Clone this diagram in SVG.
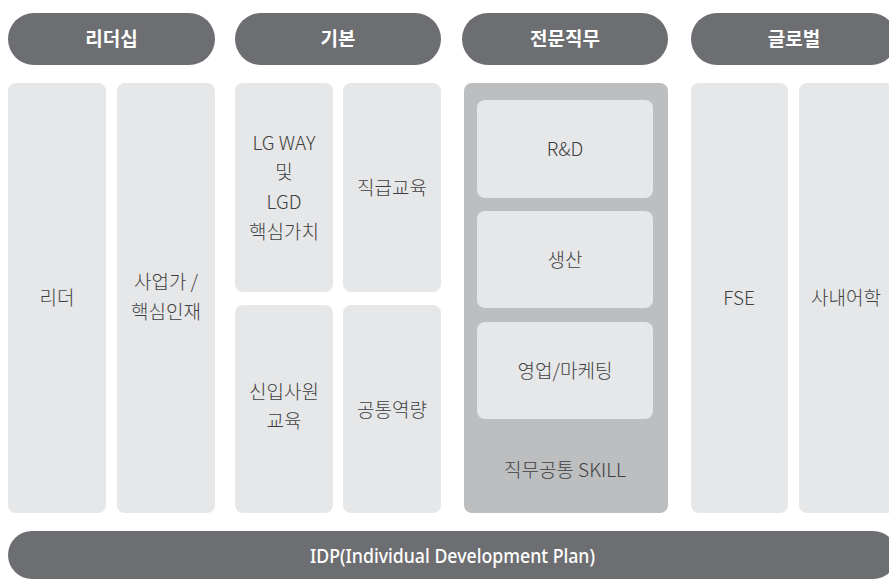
<svg xmlns="http://www.w3.org/2000/svg" width="889" height="579" viewBox="0 0 889 579">
<style>
.pill{fill:#6d6e71}
.box{fill:#e6e7e8}
.mid{fill:#bcbec0}
.h{font-family:"Noto Sans CJK KR","Noto Sans",sans-serif;font-size:19px;font-weight:700;fill:#ffffff;text-anchor:middle}
.t{font-family:"Noto Sans CJK KR","Noto Sans",sans-serif;font-size:19px;font-weight:300;fill:#3f3f41;text-anchor:middle}
.idp{font-family:"Noto Sans","Noto Sans CJK KR",sans-serif;font-size:20px;font-weight:500;fill:#ffffff;text-anchor:middle}
</style>
<rect width="889" height="579" fill="#ffffff"/>
<g id="hdr-leadership"><rect class="pill" x="8" y="13" width="207" height="52" rx="26"/><text class="h" x="111.5" y="46">리더십</text></g>
<g id="hdr-basic"><rect class="pill" x="235" y="13" width="206" height="52" rx="26"/><text class="h" x="338" y="46">기본</text></g>
<g id="hdr-job"><rect class="pill" x="462" y="13" width="206" height="52" rx="26"/><text class="h" x="565" y="46">전문직무</text></g>
<g id="hdr-global"><rect class="pill" x="691" y="13" width="206" height="52" rx="26"/><text class="h" x="794" y="46">글로벌</text></g>

<g id="leader"><rect class="box" x="8" y="83" width="98" height="430" rx="8"/><text class="t" x="57" y="305">리더</text></g>
<g id="talent"><rect class="box" x="117" y="83" width="98" height="430" rx="8"/><text class="t" x="166" y="289">사업가 /</text><text class="t" x="166" y="319">핵심인재</text></g>

<g id="lgway"><rect class="box" x="235" y="83" width="98" height="209" rx="8"/><text class="t" x="284" y="150">LG WAY</text><text class="t" x="284" y="179">및</text><text class="t" x="284" y="209">LGD</text><text class="t" x="284" y="239">핵심가치</text></g>
<g id="rank"><rect class="box" x="343" y="83" width="98" height="209" rx="8"/><text class="t" x="392" y="195">직급교육</text></g>
<g id="newhire"><rect class="box" x="235" y="305" width="98" height="208" rx="8"/><text class="t" x="284" y="399">신입사원</text><text class="t" x="284" y="428">교육</text></g>
<g id="common"><rect class="box" x="343" y="305" width="98" height="208" rx="8"/><text class="t" x="392" y="417">공통역량</text></g>

<g id="job"><rect class="mid" x="464" y="83" width="204" height="430" rx="8"/><text class="t" x="565" y="477">직무공통 SKILL</text></g>
<g id="rnd"><rect class="box" x="477" y="100" width="176" height="98" rx="8"/><text class="t" x="565" y="156">R&amp;D</text></g>
<g id="prod"><rect class="box" x="477" y="211" width="176" height="97" rx="8"/><text class="t" x="565" y="267">생산</text></g>
<g id="sales"><rect class="box" x="477" y="322" width="176" height="97" rx="8"/><text class="t" x="565" y="378">영업/마케팅</text></g>

<g id="fse"><rect class="box" x="691" y="83" width="97" height="430" rx="8"/><text class="t" x="739" y="305">FSE</text></g>
<g id="lang"><rect class="box" x="799" y="83" width="98" height="430" rx="8"/><text class="t" x="846" y="305">사내어학</text></g>

<g id="idp"><rect class="pill" x="8" y="531" width="889" height="48" rx="24"/><text class="idp" x="452.5" y="563" textLength="285" lengthAdjust="spacingAndGlyphs">IDP(Individual Development Plan)</text></g>
<g id="connectors"></g>
</svg>
